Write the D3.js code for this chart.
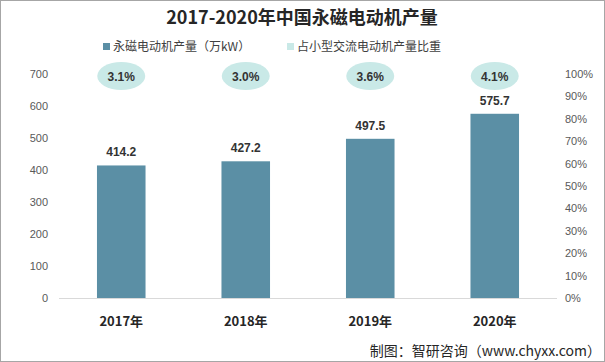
<!DOCTYPE html>
<html>
<head>
<meta charset="utf-8">
<script src="https://cdn.jsdelivr.net/npm/d3@7"></script>
<style>
  body { margin: 0; background: #fff; }
  svg { display: block; font-family: "Noto Sans CJK SC", "Noto Sans", sans-serif; }
</style>
</head>
<body>
<svg id="chart" width="605" height="362"></svg>
<script>
// data
const years = ["2017年", "2018年", "2019年", "2020年"];
const output = [414.2, 427.2, 497.5, 575.7];     // 万kW
const share = [3.1, 3.0, 3.6, 4.1];              // %
const leftTicks = [0, 100, 200, 300, 400, 500, 600, 700];
const rightTicks = [0, 10, 20, 30, 40, 50, 60, 70, 80, 90, 100];

const svg = d3.select("#chart");
const W = 605, H = 362;

// frame
svg.append("rect")
  .attr("x", 0.5).attr("y", 0.5)
  .attr("width", W - 1).attr("height", H - 1)
  .attr("fill", "#fff").attr("stroke", "#a6a6a6");

const plot = { left: 59, right: 557, top: 74, bottom: 298 };

const x = d3.scaleBand()
  .domain(years)
  .range([plot.left, plot.right])
  .paddingInner(0.61)
  .paddingOuter(0.305);

const y = d3.scaleLinear().domain([0, 700]).range([plot.bottom, plot.top]);
const y2 = d3.scaleLinear().domain([0, 100]).range([plot.bottom, plot.top]);

// title
svg.append("text")
  .attr("x", 302).attr("y", 24)
  .attr("text-anchor", "middle")
  .attr("font-size", 18).attr("font-weight", "bold")
  .attr("fill", "#262626")
  .text("2017-2020年中国永磁电动机产量");

// legend
const legend = [
  { label: "永磁电动机产量（万kW）", color: "#5b8fa5", x: 103 },
  { label: "占小型交流电动机产量比重", color: "#c9e9e7", x: 287 }
];
const lg = svg.append("g").selectAll("g").data(legend).join("g")
  .attr("transform", d => `translate(${d.x},47)`);
lg.append("rect").attr("x", 0).attr("y", -4).attr("width", 7).attr("height", 7)
  .attr("fill", d => d.color);
lg.append("text").attr("x", 10).attr("y", 4)
  .attr("font-size", 12).attr("fill", "#404040")
  .text(d => d.label);

// left axis
const yAxis = d3.axisLeft(y).tickValues(leftTicks).tickSize(0).tickPadding(0);
svg.append("g")
  .attr("transform", "translate(48,0)")
  .call(yAxis)
  .call(g => g.select(".domain").remove())
  .call(g => g.selectAll("text").attr("font-size", 11).attr("fill", "#595959")
    .attr("font-family", "Liberation Sans, Arial, sans-serif"));

// right axis
const y2Axis = d3.axisRight(y2).tickValues(rightTicks).tickSize(0).tickPadding(0)
  .tickFormat(d => d + "%");
svg.append("g")
  .attr("transform", "translate(565,0)")
  .call(y2Axis)
  .call(g => g.select(".domain").remove())
  .call(g => g.selectAll("text").attr("font-size", 11).attr("fill", "#595959")
    .attr("font-family", "Liberation Sans, Arial, sans-serif"));

// baseline
svg.append("line")
  .attr("x1", plot.left).attr("x2", plot.right)
  .attr("y1", plot.bottom + 0.5).attr("y2", plot.bottom + 0.5)
  .attr("stroke", "#d9d9d9");

// bars
const data = years.map((yr, i) => ({ yr, v: output[i], p: share[i] }));

svg.append("g").selectAll("rect").data(data).join("rect")
  .attr("x", d => x(d.yr))
  .attr("y", d => y(d.v))
  .attr("width", x.bandwidth())
  .attr("height", d => y(0) - y(d.v))
  .attr("fill", "#5b8fa5");

svg.append("g").selectAll("text").data(data).join("text")
  .attr("x", d => x(d.yr) + x.bandwidth() / 2)
  .attr("y", d => y(d.v) - 9)
  .attr("text-anchor", "middle")
  .attr("font-size", 12).attr("font-weight", "bold")
  .attr("fill", "#333")
  .attr("font-family", "Liberation Sans, Arial, sans-serif")
  .text(d => d.v.toFixed(1));

// share labels, shown as ellipses along the top of the plot
const eg = svg.append("g").selectAll("g").data(data).join("g")
  .attr("transform", d => `translate(${x(d.yr) + x.bandwidth() / 2},76)`);
eg.append("ellipse").attr("rx", 24).attr("ry", 14).attr("fill", "#c9e9e7");
eg.append("text")
  .attr("y", 4.5)
  .attr("text-anchor", "middle")
  .attr("font-size", 12).attr("font-weight", "bold")
  .attr("fill", "#333")
  .attr("font-family", "Liberation Sans, Arial, sans-serif")
  .text(d => d.p.toFixed(1) + "%");

// year labels
svg.append("g").selectAll("text").data(data).join("text")
  .attr("x", d => x(d.yr) + x.bandwidth() / 2)
  .attr("y", 326)
  .attr("text-anchor", "middle")
  .attr("font-size", 13).attr("font-weight", "bold")
  .attr("fill", "#262626")
  .text(d => d.yr);

// source
svg.append("text")
  .attr("x", 601).attr("y", 356)
  .attr("text-anchor", "end")
  .attr("font-size", 14).attr("fill", "#262626")
  .text("制图：智研咨询（www.chyxx.com）");
</script>
</body>
</html>
